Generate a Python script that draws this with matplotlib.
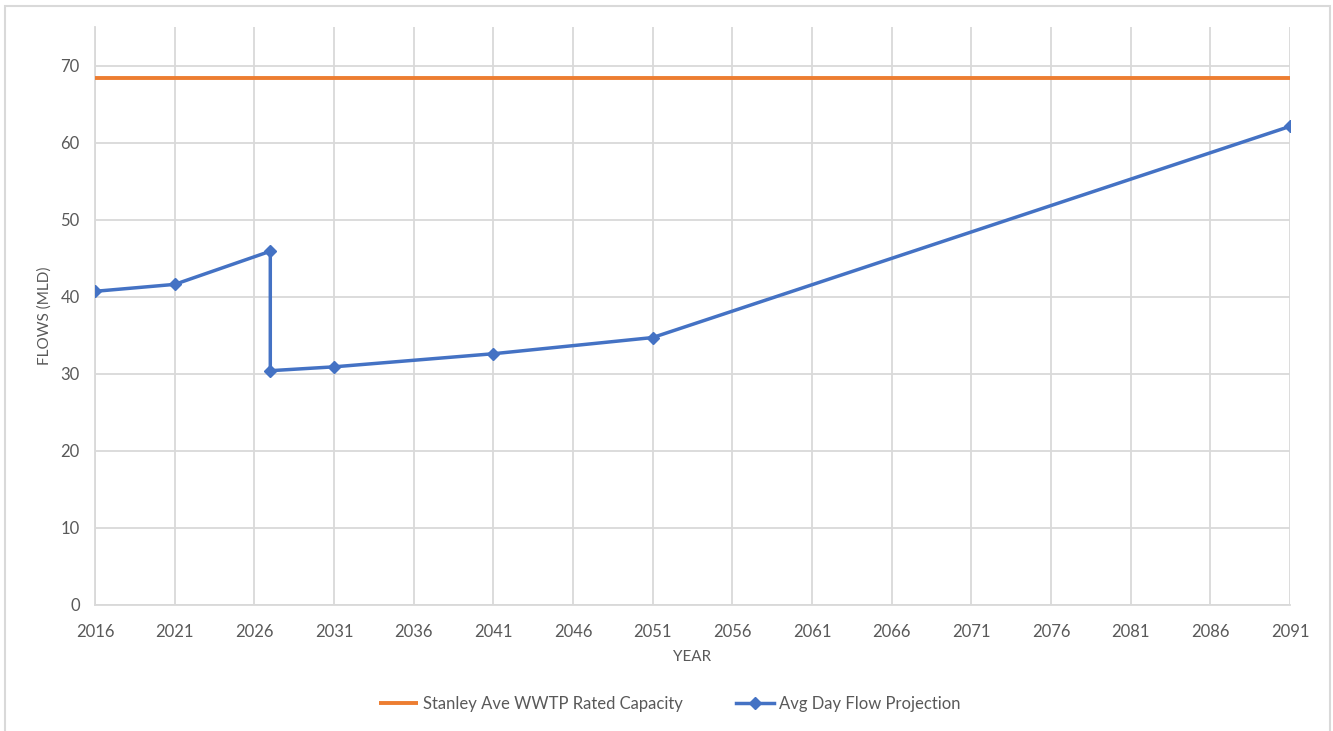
import matplotlib
matplotlib.use("Agg")
import matplotlib.pyplot as plt
from matplotlib.patches import Rectangle

plt.rcParams['font.family'] = ['Lato', 'DejaVu Sans']

# data
years = [2016, 2021, 2027, 2027, 2031, 2041, 2051, 2091]
avg_flow = [40.7, 41.6, 45.9, 30.4, 30.9, 32.6, 34.7, 62.1]
capacity_years = [2016, 2091]
capacity = [68.4, 68.4]
x_ticks = list(range(2016, 2092, 5))
y_ticks = list(range(0, 71, 10))

grey_txt = "#595959"
grid_col = "#D9D9D9"

fig = plt.figure(figsize=(13.33, 7.31), dpi=100)
# outer chart frame
fig.patches.append(Rectangle((0.004, -0.01), 0.994, 1.002, transform=fig.transFigure,
                             fill=False, edgecolor=grid_col, linewidth=1.5))

ax = fig.add_axes([0.0713, 0.1724, 0.8964, 0.7907])

ax.plot(capacity_years, capacity, color="#ED7D31", linewidth=2.8,
        label="Stanley Ave WWTP Rated Capacity", zorder=3, solid_capstyle="butt")
ax.plot(years, avg_flow, color="#4472C4", linewidth=2.5, marker="D", markersize=6,
        label="Avg Day Flow Projection", zorder=4)

ax.set_xlim(2016, 2091)
ax.set_ylim(0, 75)
ax.set_xticks(x_ticks)
ax.set_yticks(y_ticks)
ax.grid(True, color=grid_col, linewidth=1.3)
ax.set_axisbelow(True)
for s in ["top", "right"]:
    ax.spines[s].set_visible(False)
for s in ["left", "bottom"]:
    ax.spines[s].set_color(grid_col)
    ax.spines[s].set_linewidth(1.3)
ax.tick_params(length=0, labelsize=12, labelcolor=grey_txt)
ax.tick_params(axis="x", pad=14)
ax.tick_params(axis="y", pad=11)

ax.set_xlabel("YEAR", fontsize=11, color=grey_txt, labelpad=7)
ax.set_ylabel("FLOWS (MLD)", fontsize=11, color=grey_txt, labelpad=6)

fig.legend(loc="center", bbox_to_anchor=(670 / 1333, 1 - 704 / 731), ncol=2, frameon=False,
           fontsize=12, handlelength=2.3, handletextpad=0.3, columnspacing=3.2,
           labelcolor=grey_txt)

fig.savefig("out.png", dpi=100)
